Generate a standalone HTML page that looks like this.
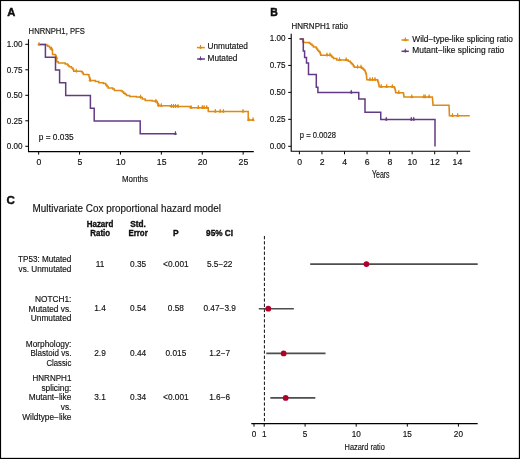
<!DOCTYPE html>
<html><head><meta charset="utf-8"><style>
html,body{margin:0;padding:0;background:#fff;}
svg{display:block;}
text{font-family:"Liberation Sans",sans-serif;fill:#111;stroke:#111;stroke-width:0.15px;}
text[font-weight=bold]{stroke:#000;stroke-width:0.3px;}
text.big{stroke-width:0.4px;}
</style></head><body>
<svg width="520" height="459" viewBox="0 0 520 459">
<defs><filter id="b" x="0" y="0" width="520" height="459" filterUnits="userSpaceOnUse"><feGaussianBlur stdDeviation="0.33"/></filter></defs>
<rect x="0" y="0" width="520" height="459" fill="#fff"/>
<g filter="url(#b)">
<text x="7.3" y="15.7" font-size="11.2" font-weight="bold" fill="#000" class="big">A</text>
<text x="28.6" y="34.2" font-size="8.3" textLength="56.2" lengthAdjust="spacingAndGlyphs">HNRNPH1, PFS</text>
<path d="M28.5,39.2V151.6H253.8" stroke="#000" stroke-width="1.1" fill="none"/>
<text x="22.5" y="149.05" font-size="8.6" text-anchor="end" textLength="15.8" lengthAdjust="spacingAndGlyphs">0.00</text>
<text x="22.5" y="123.55000000000001" font-size="8.6" text-anchor="end" textLength="15.8" lengthAdjust="spacingAndGlyphs">0.25</text>
<text x="22.5" y="98.05000000000001" font-size="8.6" text-anchor="end" textLength="15.8" lengthAdjust="spacingAndGlyphs">0.50</text>
<text x="22.5" y="72.55" font-size="8.6" text-anchor="end" textLength="15.8" lengthAdjust="spacingAndGlyphs">0.75</text>
<text x="22.5" y="47.05" font-size="8.6" text-anchor="end" textLength="15.8" lengthAdjust="spacingAndGlyphs">1.00</text>
<text x="38.949999999999996" y="164.8" font-size="8.7" text-anchor="middle">0</text>
<text x="79.85" y="164.8" font-size="8.7" text-anchor="middle">5</text>
<text x="120.74999999999999" y="164.8" font-size="8.7" text-anchor="middle">10</text>
<text x="161.65" y="164.8" font-size="8.7" text-anchor="middle">15</text>
<text x="202.55" y="164.8" font-size="8.7" text-anchor="middle">20</text>
<text x="243.45000000000002" y="164.8" font-size="8.7" text-anchor="middle">25</text>
<path d="M25.3,146.30H28.5M25.3,120.80H28.5M25.3,95.30H28.5M25.3,69.80H28.5M25.3,44.30H28.5M38.65,151.6V154.6M79.55,151.6V154.6M120.45,151.6V154.6M161.35,151.6V154.6M202.25,151.6V154.6M243.15,151.6V154.6" stroke="#000" stroke-width="1" fill="none"/>
<text x="122.0" y="181.7" font-size="9.8" textLength="26.0" lengthAdjust="spacingAndGlyphs">Months</text>
<text x="38.8" y="139.8" font-size="8.5" textLength="34.8" lengthAdjust="spacingAndGlyphs">p = 0.035</text>
<g transform="translate(0,0.3)">
<path d="M38.75,44.30H45.80V44.60H47.67V46.00H49.53V47.40H51.40V48.80H51.95V49.80H52.50V50.80H52.50V51.93H52.50V53.07H52.50V54.20H55.20V54.60H55.60V55.63H56.00V56.67H56.40V57.70H56.53V58.97H56.67V60.23H56.80V61.50H58.30V62.70H62.90V62.70H65.20V63.80H67.50V64.60H68.30V65.55H69.10V66.50H71.40V67.70H72.90V69.20H73.70V71.00H81.50V71.50H82.40V72.80H83.30V74.10H87.90V74.40H89.00V76.20H89.40V77.53H89.80V78.87H90.20V80.20H95.40V81.30H98.80V82.50H103.50V83.10H105.80V84.80H106.95V86.25H108.10V87.70H112.70V88.80H114.40V90.20H121.30V90.60H122.50V91.75H123.70V92.90H125.10V94.05H126.50V95.20H129.60V96.20H136.50V96.80H140.60V97.10H142.30V98.60H145.20V100.20H152.10V100.80H155.90V101.20H157.30V102.90H157.90V104.05H158.50V105.20H161.30V105.50H170.00V105.80H178.00V106.30H189.20V106.50H191.00V107.40H208.2V111.3H248.2V119.6H253.8" stroke="#E08A12" stroke-width="1.5" fill="none"/>
<path d="M39.00,41.70V45.60M51.40,46.20V50.10M56.40,55.10V59.00M76.30,68.40V72.30M90.20,77.60V81.50M140.60,94.40V98.30M155.90,98.60V102.50M158.50,102.60V106.50M161.30,102.90V106.80M171.50,103.70V107.60M173.50,103.70V107.60M175.50,103.70V107.60M178.00,103.70V107.60M191.00,104.80V108.70M198.30,104.80V108.70M202.30,104.80V108.70M204.10,104.80V108.70M206.70,104.80V108.70M215.30,108.70V112.60M220.20,108.70V112.60M223.40,108.70V112.60M243.00,108.70V112.60M248.80,117.00V120.90M253.00,117.00V120.90" stroke="#E08A12" stroke-width="1.0" fill="none"/><path d="M37.10,44.80L39.00,42.40L40.90,44.80L39.00,45.30ZM49.50,49.30L51.40,46.90L53.30,49.30L51.40,49.80ZM54.50,58.20L56.40,55.80L58.30,58.20L56.40,58.70ZM74.40,71.50L76.30,69.10L78.20,71.50L76.30,72.00ZM88.30,80.70L90.20,78.30L92.10,80.70L90.20,81.20ZM138.70,97.50L140.60,95.10L142.50,97.50L140.60,98.00ZM154.00,101.70L155.90,99.30L157.80,101.70L155.90,102.20ZM156.60,105.70L158.50,103.30L160.40,105.70L158.50,106.20ZM159.40,106.00L161.30,103.60L163.20,106.00L161.30,106.50ZM169.60,106.80L171.50,104.40L173.40,106.80L171.50,107.30ZM171.60,106.80L173.50,104.40L175.40,106.80L173.50,107.30ZM173.60,106.80L175.50,104.40L177.40,106.80L175.50,107.30ZM176.10,106.80L178.00,104.40L179.90,106.80L178.00,107.30ZM189.10,107.90L191.00,105.50L192.90,107.90L191.00,108.40ZM196.40,107.90L198.30,105.50L200.20,107.90L198.30,108.40ZM200.40,107.90L202.30,105.50L204.20,107.90L202.30,108.40ZM202.20,107.90L204.10,105.50L206.00,107.90L204.10,108.40ZM204.80,107.90L206.70,105.50L208.60,107.90L206.70,108.40ZM213.40,111.80L215.30,109.40L217.20,111.80L215.30,112.30ZM218.30,111.80L220.20,109.40L222.10,111.80L220.20,112.30ZM221.50,111.80L223.40,109.40L225.30,111.80L223.40,112.30ZM241.10,111.80L243.00,109.40L244.90,111.80L243.00,112.30ZM246.90,120.10L248.80,117.70L250.70,120.10L248.80,120.60ZM251.10,120.10L253.00,117.70L254.90,120.10L253.00,120.60Z" fill="#E08A12"/>
</g>
<g transform="translate(0,0.25)">
<path d="M39.7,44.30H45.4V57.05H55.5V69.80H59.6V82.55H65.7V95.30H90.4V108.05H94.2V120.80H140.2V133.55H175.4" stroke="#643A84" stroke-width="1.5" fill="none"/>
<path d="M175.40,130.95V134.85" stroke="#643A84" stroke-width="1.0" fill="none"/><path d="M173.50,134.05L175.40,131.65L177.30,134.05L175.40,134.55Z" fill="#643A84"/>
</g>
<path d="M196.9,47.6H204.8" stroke="#E08A12" stroke-width="1.5"/>
<path d="M200.50,45.00V48.90" stroke="#E08A12" stroke-width="1.0" fill="none"/><path d="M198.60,48.10L200.50,45.70L202.40,48.10L200.50,48.60Z" fill="#E08A12"/>
<text x="207.6" y="49.2" font-size="8.2" textLength="40.3" lengthAdjust="spacingAndGlyphs">Unmutated</text>
<path d="M197.1,59.0H204.9" stroke="#643A84" stroke-width="1.5"/>
<path d="M200.50,56.40V60.30" stroke="#643A84" stroke-width="1.0" fill="none"/><path d="M198.60,59.50L200.50,57.10L202.40,59.50L200.50,60.00Z" fill="#643A84"/>
<text x="207.6" y="60.6" font-size="8.2" textLength="29.8" lengthAdjust="spacingAndGlyphs">Mutated</text>
<text x="270.2" y="15.6" font-size="11.2" font-weight="bold" textLength="7.6" lengthAdjust="spacingAndGlyphs" fill="#000" class="big">B</text>
<text x="291.6" y="28.8" font-size="8.3" textLength="56.3" lengthAdjust="spacingAndGlyphs">HNRNPH1 ratio</text>
<path d="M291.2,33.8V151.3H470.2" stroke="#000" stroke-width="1.1" fill="none"/>
<text x="285.6" y="149.05" font-size="8.6" text-anchor="end" textLength="15.8" lengthAdjust="spacingAndGlyphs">0.00</text>
<text x="285.6" y="122.10000000000001" font-size="8.6" text-anchor="end" textLength="15.8" lengthAdjust="spacingAndGlyphs">0.25</text>
<text x="285.6" y="95.15" font-size="8.6" text-anchor="end" textLength="15.8" lengthAdjust="spacingAndGlyphs">0.50</text>
<text x="285.6" y="68.2" font-size="8.6" text-anchor="end" textLength="15.8" lengthAdjust="spacingAndGlyphs">0.75</text>
<text x="285.6" y="41.25" font-size="8.6" text-anchor="end" textLength="15.8" lengthAdjust="spacingAndGlyphs">1.00</text>
<text x="299.59999999999997" y="164.8" font-size="8.7" text-anchor="middle">0</text>
<text x="322.15" y="164.8" font-size="8.7" text-anchor="middle">2</text>
<text x="344.7" y="164.8" font-size="8.7" text-anchor="middle">4</text>
<text x="367.24999999999994" y="164.8" font-size="8.7" text-anchor="middle">6</text>
<text x="389.79999999999995" y="164.8" font-size="8.7" text-anchor="middle">8</text>
<text x="412.34999999999997" y="164.8" font-size="8.7" text-anchor="middle">10</text>
<text x="434.9" y="164.8" font-size="8.7" text-anchor="middle">12</text>
<text x="457.45" y="164.8" font-size="8.7" text-anchor="middle">14</text>
<path d="M288.2,146.30H291.2M288.2,119.35H291.2M288.2,92.40H291.2M288.2,65.45H291.2M288.2,38.50H291.2M299.40,151.3V154.3M321.95,151.3V154.3M344.50,151.3V154.3M367.05,151.3V154.3M389.60,151.3V154.3M412.15,151.3V154.3M434.70,151.3V154.3M457.25,151.3V154.3" stroke="#000" stroke-width="1" fill="none"/>
<text x="372.0" y="178.2" font-size="10.2" textLength="17.6" lengthAdjust="spacingAndGlyphs">Years</text>
<text x="299.8" y="138.2" font-size="8.5" textLength="36.2" lengthAdjust="spacingAndGlyphs">p = 0.0028</text>
<g transform="translate(0,0.4)">
<path d="M299.6,38.5H303.2H303.30V39.73H303.40V40.97H303.50V42.20H309.20V42.90H310.60V43.95H312.00V45.00H313.40V46.50H316.30V47.90H317.00V48.95H317.70V50.00H318.75V51.05H319.80V52.10H320.25V53.45H320.70V54.80H330.80V54.80H331.45V55.80H332.10V56.80H333.50V58.20H336.80V59.50H346.20V59.50H348.30V60.90H350.30V62.20H351.30V63.20H352.30V64.20H353.30V65.55H354.30V66.90H360.40V66.90H361.75V67.90H363.10V68.90H364.10V69.95H365.10V71.00H365.53V72.33H365.97V73.67H366.40V75.00H366.50V76.08H366.60V77.15H366.70V78.22H366.80V79.30H377.20V79.30H377.63V80.57H378.07V81.83H378.50V83.10H378.73V84.17H378.97V85.23H379.20V86.30H393.70V86.30H394.35V87.55H395.00V88.80H395.23V89.97H395.47V91.13H395.70V92.30H403.20V92.30H403.40V93.38H403.60V94.45H403.80V95.52H404.00V96.60H432.30V96.60H432.40V97.77H432.50V98.94H432.60V100.11H432.70V101.29H432.80V102.46H432.90V103.63H433.00V104.80H449.00V104.80H449.04V105.97H449.09V107.13H449.13V108.30H449.18V109.47H449.22V110.63H449.27V111.80H449.31V112.97H449.36V114.13H449.40V115.30H469.80V115.30" stroke="#E08A12" stroke-width="1.5" fill="none"/>
<path d="M327.00,52.20V56.10M330.00,52.20V56.10M339.60,56.90V60.80M346.20,56.90V60.80M357.60,64.30V68.20M361.00,64.30V68.20M370.00,76.70V80.60M372.50,76.70V80.60M375.00,76.70V80.60M381.20,83.70V87.60M386.70,83.70V87.60M392.30,83.70V87.60M398.80,89.70V93.60M411.80,94.00V97.90M423.90,94.00V97.90M425.20,94.00V97.90M429.10,94.00V97.90M452.50,112.70V116.60M457.70,112.70V116.60" stroke="#E08A12" stroke-width="1.0" fill="none"/><path d="M325.10,55.30L327.00,52.90L328.90,55.30L327.00,55.80ZM328.10,55.30L330.00,52.90L331.90,55.30L330.00,55.80ZM337.70,60.00L339.60,57.60L341.50,60.00L339.60,60.50ZM344.30,60.00L346.20,57.60L348.10,60.00L346.20,60.50ZM355.70,67.40L357.60,65.00L359.50,67.40L357.60,67.90ZM359.10,67.40L361.00,65.00L362.90,67.40L361.00,67.90ZM368.10,79.80L370.00,77.40L371.90,79.80L370.00,80.30ZM370.60,79.80L372.50,77.40L374.40,79.80L372.50,80.30ZM373.10,79.80L375.00,77.40L376.90,79.80L375.00,80.30ZM379.30,86.80L381.20,84.40L383.10,86.80L381.20,87.30ZM384.80,86.80L386.70,84.40L388.60,86.80L386.70,87.30ZM390.40,86.80L392.30,84.40L394.20,86.80L392.30,87.30ZM396.90,92.80L398.80,90.40L400.70,92.80L398.80,93.30ZM409.90,97.10L411.80,94.70L413.70,97.10L411.80,97.60ZM422.00,97.10L423.90,94.70L425.80,97.10L423.90,97.60ZM423.30,97.10L425.20,94.70L427.10,97.10L425.20,97.60ZM427.20,97.10L429.10,94.70L431.00,97.10L429.10,97.60ZM450.60,115.80L452.50,113.40L454.40,115.80L452.50,116.30ZM455.80,115.80L457.70,113.40L459.60,115.80L457.70,116.30Z" fill="#E08A12"/>
</g>
<g transform="translate(0,0.3)">
<path d="M299.6,38.6H303.0V41.5H303.3V50.7H304.6V57.1H306.5V62.8H308.5V74.1H316.3V86.9H317.9V92.2H358.75V98.75H365V112H380.75V119.25H435V146.3" stroke="#643A84" stroke-width="1.5" fill="none"/>
<path d="M351.25,89.60V93.50M386.25,116.65V120.55M411.25,116.65V120.55M413.75,116.65V120.55" stroke="#643A84" stroke-width="1.0" fill="none"/><path d="M349.35,92.70L351.25,90.30L353.15,92.70L351.25,93.20ZM384.35,119.75L386.25,117.35L388.15,119.75L386.25,120.25ZM409.35,119.75L411.25,117.35L413.15,119.75L411.25,120.25ZM411.85,119.75L413.75,117.35L415.65,119.75L413.75,120.25Z" fill="#643A84"/>
</g>
<path d="M401.5,40.0H408.8" stroke="#E08A12" stroke-width="1.5"/>
<path d="M405.30,37.40V41.30" stroke="#E08A12" stroke-width="1.0" fill="none"/><path d="M403.40,40.50L405.30,38.10L407.20,40.50L405.30,41.00Z" fill="#E08A12"/>
<text x="412.3" y="41.8" font-size="8.25" textLength="100.6" lengthAdjust="spacingAndGlyphs">Wild−type-like splicing ratio</text>
<path d="M401.5,51.3H408.8" stroke="#643A84" stroke-width="1.5"/>
<path d="M405.30,48.70V52.60" stroke="#643A84" stroke-width="1.0" fill="none"/><path d="M403.40,51.80L405.30,49.40L407.20,51.80L405.30,52.30Z" fill="#643A84"/>
<text x="412.3" y="53.0" font-size="8.25" textLength="92.0" lengthAdjust="spacingAndGlyphs">Mutant−like splicing ratio</text>
<text x="6.4" y="204.2" font-size="11.6" font-weight="bold" fill="#000" class="big">C</text>
<text x="32.6" y="211.5" font-size="10.0" textLength="188.3" lengthAdjust="spacingAndGlyphs">Multivariate Cox proportional hazard model</text>
<text x="100" y="226.9" font-size="8.5" font-weight="bold" text-anchor="middle" textLength="26.6" lengthAdjust="spacingAndGlyphs" fill="#000">Hazard</text>
<text x="100.2" y="236.2" font-size="8.5" font-weight="bold" text-anchor="middle" textLength="19.8" lengthAdjust="spacingAndGlyphs" fill="#000">Ratio</text>
<text x="138.0" y="226.9" font-size="8.5" font-weight="bold" text-anchor="middle" textLength="15.6" lengthAdjust="spacingAndGlyphs" fill="#000">Std.</text>
<text x="138.1" y="236.2" font-size="8.5" font-weight="bold" text-anchor="middle" textLength="19.4" lengthAdjust="spacingAndGlyphs" fill="#000">Error</text>
<text x="175.9" y="236.2" font-size="8.5" font-weight="bold" text-anchor="middle" fill="#000">P</text>
<text x="219.6" y="236.2" font-size="8.5" font-weight="bold" text-anchor="middle" textLength="27.0" lengthAdjust="spacingAndGlyphs" fill="#000">95% CI</text>
<text x="71.4" y="262.29999999999995" font-size="8.5" text-anchor="end" textLength="53.4" lengthAdjust="spacingAndGlyphs">TP53: Mutated</text>
<text x="71.4" y="271.79999999999995" font-size="8.5" text-anchor="end" textLength="52.8" lengthAdjust="spacingAndGlyphs">vs. Unmutated</text>
<text x="100.0" y="266.7" font-size="8.5" text-anchor="middle" textLength="8.62" lengthAdjust="spacingAndGlyphs">11</text>
<text x="138.1" y="266.7" font-size="8.5" text-anchor="middle" textLength="16.15" lengthAdjust="spacingAndGlyphs">0.35</text>
<text x="175.9" y="266.7" font-size="8.5" text-anchor="middle" textLength="25.62" lengthAdjust="spacingAndGlyphs">&lt;0.001</text>
<text x="219.7" y="266.7" font-size="8.5" text-anchor="middle" textLength="25.62" lengthAdjust="spacingAndGlyphs">5.5−22</text>
<text x="71.4" y="301.7" font-size="8.5" text-anchor="end" textLength="36.43" lengthAdjust="spacingAndGlyphs">NOTCH1:</text>
<text x="71.4" y="311.59999999999997" font-size="8.5" text-anchor="end" textLength="42.9" lengthAdjust="spacingAndGlyphs">Mutated vs.</text>
<text x="71.4" y="321.0" font-size="8.5" text-anchor="end" textLength="40.6" lengthAdjust="spacingAndGlyphs">Unmutated</text>
<text x="100.0" y="311.4" font-size="8.5" text-anchor="middle" textLength="11.54" lengthAdjust="spacingAndGlyphs">1.4</text>
<text x="138.1" y="311.4" font-size="8.5" text-anchor="middle" textLength="16.15" lengthAdjust="spacingAndGlyphs">0.54</text>
<text x="175.9" y="311.4" font-size="8.5" text-anchor="middle" textLength="16.15" lengthAdjust="spacingAndGlyphs">0.58</text>
<text x="219.7" y="311.4" font-size="8.5" text-anchor="middle" textLength="32.54" lengthAdjust="spacingAndGlyphs">0.47−3.9</text>
<text x="71.4" y="346.59999999999997" font-size="8.5" text-anchor="end" textLength="45.68" lengthAdjust="spacingAndGlyphs">Morphology:</text>
<text x="71.4" y="356.2" font-size="8.5" text-anchor="end" textLength="40.9" lengthAdjust="spacingAndGlyphs">Blastoid vs.</text>
<text x="71.4" y="365.5" font-size="8.5" text-anchor="end" textLength="24.9" lengthAdjust="spacingAndGlyphs">Classic</text>
<text x="100.0" y="356.0" font-size="8.5" text-anchor="middle" textLength="11.54" lengthAdjust="spacingAndGlyphs">2.9</text>
<text x="138.1" y="356.0" font-size="8.5" text-anchor="middle" textLength="16.15" lengthAdjust="spacingAndGlyphs">0.44</text>
<text x="175.9" y="356.0" font-size="8.5" text-anchor="middle" textLength="20.77" lengthAdjust="spacingAndGlyphs">0.015</text>
<text x="219.7" y="356.0" font-size="8.5" text-anchor="middle" textLength="21.0" lengthAdjust="spacingAndGlyphs">1.2−7</text>
<text x="71.4" y="381.09999999999997" font-size="8.5" text-anchor="end" textLength="38.9" lengthAdjust="spacingAndGlyphs">HNRNPH1</text>
<text x="71.4" y="390.59999999999997" font-size="8.5" text-anchor="end" textLength="29.99" lengthAdjust="spacingAndGlyphs">splicing:</text>
<text x="71.4" y="400.2" font-size="8.5" text-anchor="end" textLength="42.68" lengthAdjust="spacingAndGlyphs">Mutant−like</text>
<text x="71.4" y="409.9" font-size="8.5" text-anchor="end" textLength="10.61" lengthAdjust="spacingAndGlyphs">vs.</text>
<text x="71.4" y="419.7" font-size="8.5" text-anchor="end" textLength="49.13" lengthAdjust="spacingAndGlyphs">Wildtype−like</text>
<text x="100.0" y="400.4" font-size="8.5" text-anchor="middle" textLength="11.54" lengthAdjust="spacingAndGlyphs">3.1</text>
<text x="138.1" y="400.4" font-size="8.5" text-anchor="middle" textLength="16.15" lengthAdjust="spacingAndGlyphs">0.34</text>
<text x="175.9" y="400.4" font-size="8.5" text-anchor="middle" textLength="25.62" lengthAdjust="spacingAndGlyphs">&lt;0.001</text>
<text x="219.7" y="400.4" font-size="8.5" text-anchor="middle" textLength="21.0" lengthAdjust="spacingAndGlyphs">1.6−6</text>
<path d="M264.42,236V423.4" stroke="#111" stroke-width="1" stroke-dasharray="3.3 1.9" fill="none"/>
<path d="M251.3,423.6H477.7" stroke="#000" stroke-width="1.1" fill="none"/>
<text x="254.0" y="436.6" font-size="8.2" text-anchor="middle">0</text>
<text x="264.22" y="436.6" font-size="8.2" text-anchor="middle">1</text>
<text x="305.1" y="436.6" font-size="8.2" text-anchor="middle">5</text>
<text x="356.2" y="436.6" font-size="8.2" text-anchor="middle">10</text>
<text x="407.3" y="436.6" font-size="8.2" text-anchor="middle">15</text>
<text x="458.4" y="436.6" font-size="8.2" text-anchor="middle">20</text>
<path d="M254.00,423.6V426.6M264.22,423.6V426.6M305.10,423.6V426.6M356.20,423.6V426.6M407.30,423.6V426.6M458.40,423.6V426.6" stroke="#000" stroke-width="1" fill="none"/>
<text x="344.6" y="449.6" font-size="9.6" textLength="40.2" lengthAdjust="spacingAndGlyphs">Hazard ratio</text>
<path d="M310.21,264.1H477.70" stroke="#4d4d4d" stroke-width="1.6"/>
<circle cx="366.42" cy="264.1" r="2.9" fill="#B0042C"/>
<path d="M258.80,308.7H293.86" stroke="#4d4d4d" stroke-width="1.6"/>
<circle cx="268.31" cy="308.7" r="2.9" fill="#B0042C"/>
<path d="M266.26,353.4H325.54" stroke="#4d4d4d" stroke-width="1.6"/>
<circle cx="283.64" cy="353.4" r="2.9" fill="#B0042C"/>
<path d="M270.35,397.9H315.32" stroke="#4d4d4d" stroke-width="1.6"/>
<circle cx="285.68" cy="397.9" r="2.9" fill="#B0042C"/>
</g>
<rect x="0" y="0" width="520" height="1.08" fill="#000"/><rect x="0" y="0" width="1.08" height="459" fill="#000"/><rect x="518.85" y="0" width="1.15" height="459" fill="#000"/><rect x="0" y="457.85" width="520" height="1.15" fill="#000"/>
</svg>
</body></html>
